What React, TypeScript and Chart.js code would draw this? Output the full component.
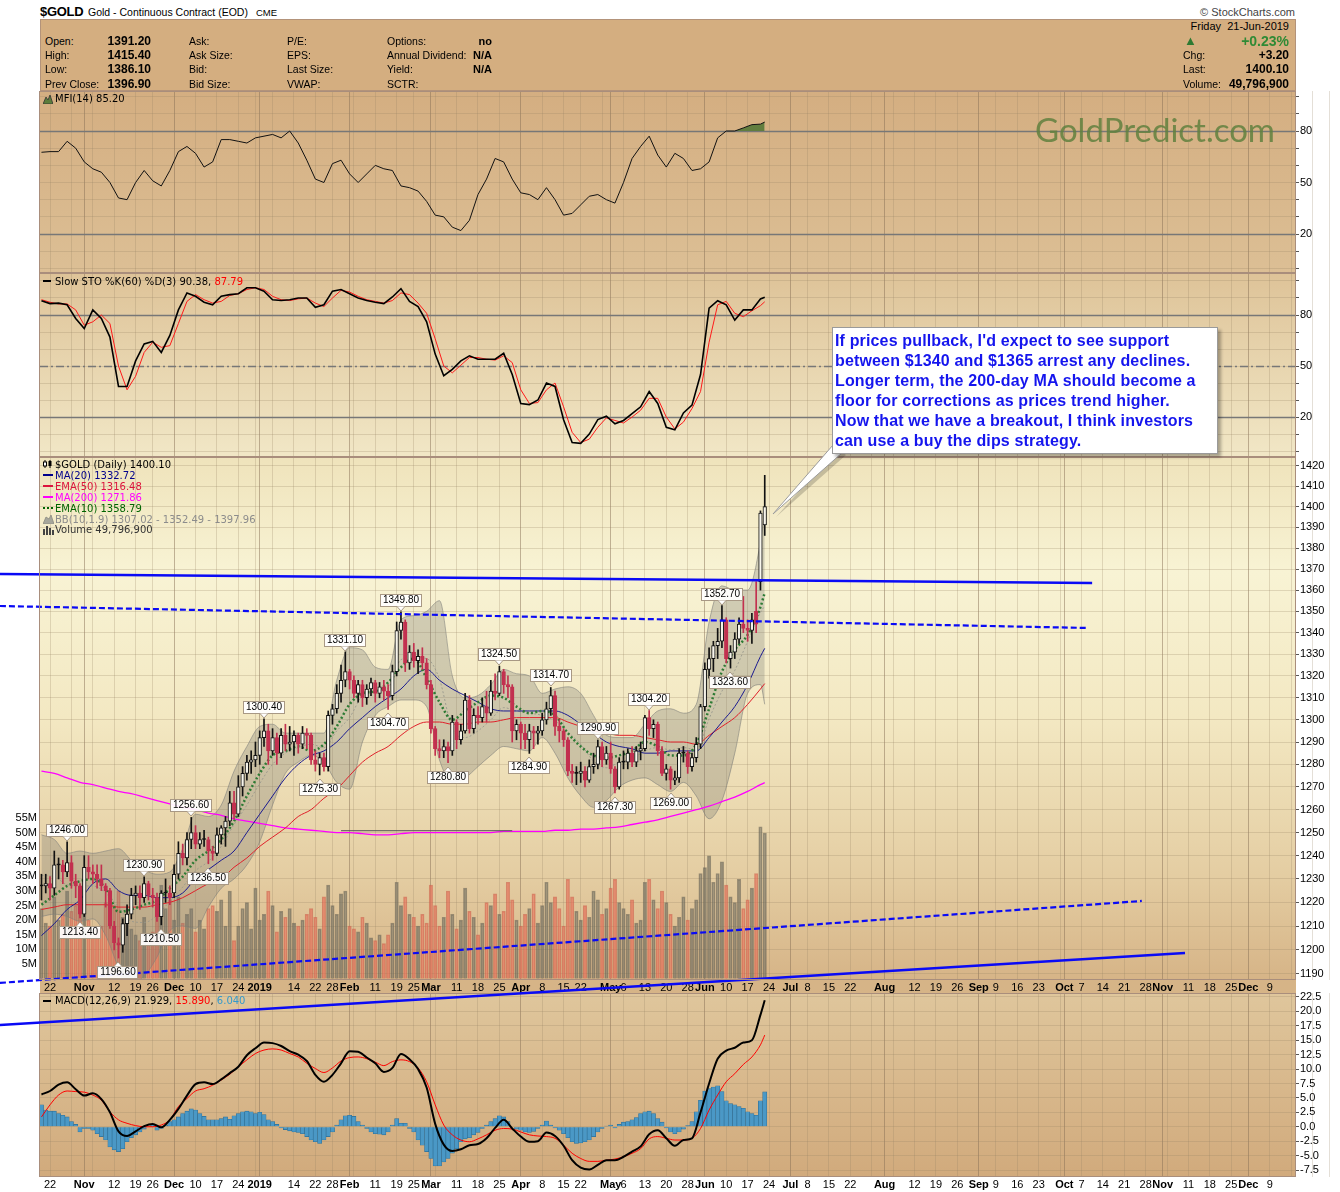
import React, { useEffect, useRef } from 'react';
import { Chart, registerables } from 'chart.js';

Chart.register(...registerables);

const FONT = "'Liberation Sans', Arial, Helvetica, sans-serif";
const LFONT = "'DejaVu Sans', Verdana, sans-serif";

/* ---------------- calendar & axis labels ---------------- */
const START_DATE = '2018-10-18';
const END_DATE = '2019-12-31';
const HOLIDAYS = ['2018-11-22', '2018-12-25', '2019-01-01', '2019-01-21', '2019-02-18', '2019-04-19', '2019-05-27', '2019-07-04', '2019-09-02', '2019-11-28', '2019-12-25'];
const TICK_DATES = ['2018-10-22', '2018-11-01', '2018-11-12', '2018-11-19', '2018-11-26', '2018-12-03', '2018-12-10', '2018-12-17', '2018-12-24', '2019-01-02', '2019-01-14', '2019-01-22', '2019-01-28', '2019-02-01', '2019-02-11', '2019-02-19', '2019-02-25', '2019-03-01', '2019-03-11', '2019-03-18', '2019-03-25', '2019-04-01', '2019-04-08', '2019-04-15', '2019-04-22', '2019-05-01', '2019-05-06', '2019-05-13', '2019-05-20', '2019-05-28', '2019-06-03', '2019-06-10', '2019-06-17', '2019-06-24', '2019-07-01', '2019-07-08', '2019-07-15', '2019-07-22', '2019-08-01', '2019-08-12', '2019-08-19', '2019-08-26', '2019-09-03', '2019-09-09', '2019-09-16', '2019-09-23', '2019-10-01', '2019-10-07', '2019-10-14', '2019-10-21', '2019-10-28', '2019-11-01', '2019-11-11', '2019-11-18', '2019-11-25', '2019-12-02', '2019-12-09'];
const TICK_TEXTS = ['22', 'Nov', '12', '19', '26', 'Dec', '10', '17', '24', '2019', '14', '22', '28', 'Feb', '11', '19', '25', 'Mar', '11', '18', '25', 'Apr', '8', '15', '22', 'May', '6', '13', '20', '28', 'Jun', '10', '17', '24', 'Jul', '8', '15', '22', 'Aug', '12', '19', '26', 'Sep', '9', '16', '23', 'Oct', '7', '14', '21', '28', 'Nov', '11', '18', '25', 'Dec', '9'];
const PRICE_TICKS = [1190, 1200, 1210, 1220, 1230, 1240, 1250, 1260, 1270, 1280, 1290, 1300, 1310, 1320, 1330, 1340, 1350, 1360, 1370, 1380, 1390, 1400, 1410, 1420];
const VOLUME_TICKS = [5, 10, 15, 20, 25, 30, 35, 40, 45, 50, 55];
const MACD_TICKS = [-7.5, -5, -2.5, 0, 2.5, 5, 7.5, 10, 12.5, 15, 17.5, 20, 22.5];
const OSC_TICKS = [0, 10, 20, 30, 40, 50, 60, 70, 80, 90, 100];
const OSC_LABELED = [20, 50, 80];

/* ---------------- daily OHLC (index 0 = 18-Oct-2018, 169 = 21-Jun-2019) ---------------- */
const OPEN = [
  1227, 1227, 1228, 1226, 1236, 1236, 1233, 1237, 1229, 1227,
  1215, 1235, 1233, 1232, 1230, 1227, 1225, 1210, 1203, 1202,
  1211, 1215, 1223, 1224, 1222, 1228, 1223, 1222, 1214, 1224,
  1224, 1224, 1232, 1241, 1239, 1247, 1250, 1245, 1247, 1247,
  1242, 1241, 1249, 1252, 1255, 1263, 1258, 1270, 1276, 1281,
  1282, 1284, 1292, 1295, 1286, 1292, 1285, 1293, 1289, 1290,
  1293, 1289, 1294, 1293, 1282, 1280, 1283, 1279, 1302, 1305,
  1312, 1318, 1322, 1318, 1312, 1316, 1310, 1314, 1317, 1312,
  1315, 1313, 1311, 1322, 1341, 1345, 1326, 1331, 1327, 1329,
  1326, 1316, 1296, 1287, 1286, 1288, 1286, 1299, 1291, 1295,
  1309, 1296, 1302, 1301, 1306, 1303, 1313, 1312, 1322, 1316,
  1315, 1295, 1298, 1294, 1291, 1295, 1294, 1295, 1300, 1305,
  1311, 1297, 1295, 1291, 1277, 1276, 1276, 1277, 1273, 1279,
  1280, 1288, 1282, 1285, 1278, 1270, 1281, 1281, 1285, 1281,
  1286, 1287, 1301, 1296, 1298, 1286, 1276, 1278, 1273, 1274,
  1285, 1285, 1279, 1283, 1289, 1306, 1323, 1328, 1334, 1336,
  1346, 1328, 1331, 1337, 1344, 1342, 1341, 1350, 1364, 1391.2,
];
const HIGH = [
  1232, 1232, 1231, 1242, 1239, 1238, 1246, 1240, 1232, 1228,
  1240, 1240, 1236, 1236, 1236, 1228, 1226, 1212, 1205, 1213,
  1219, 1226, 1227, 1227, 1230.9, 1229, 1226, 1224, 1225, 1230,
  1227, 1236, 1246, 1245, 1250, 1256.6, 1253, 1250, 1251, 1248,
  1244, 1252, 1253, 1257, 1268, 1268, 1275, 1279, 1284, 1286,
  1290, 1295, 1300.4, 1298, 1296, 1294, 1296, 1298, 1297, 1295,
  1294, 1297, 1296, 1294, 1286, 1285, 1285, 1304, 1307, 1316,
  1325, 1331.1, 1323, 1320, 1318, 1318, 1316, 1319, 1318, 1317,
  1318, 1316, 1325, 1345, 1349.8, 1346, 1334, 1335, 1332, 1333,
  1328, 1318, 1297, 1291, 1291, 1290, 1302, 1300, 1298, 1312,
  1311, 1305, 1306, 1310, 1313, 1318, 1321, 1324.5, 1323, 1320,
  1316, 1300, 1299, 1298, 1298, 1297, 1297, 1303, 1308, 1314.7,
  1313, 1300, 1296, 1292, 1280, 1279, 1281, 1279, 1282, 1285,
  1290.9, 1290, 1288, 1290, 1279, 1283, 1286, 1287, 1288, 1288,
  1290, 1302, 1304.2, 1300, 1299, 1288, 1280, 1279, 1277, 1287,
  1288, 1286, 1285, 1292, 1307, 1326, 1333, 1336, 1342, 1352.7,
  1347, 1334, 1340, 1347, 1357, 1346, 1349, 1364, 1398, 1415.4,
];
const LOW = [
  1221, 1224, 1221, 1223, 1230, 1228, 1231, 1226, 1222, 1213.4,
  1214, 1230, 1228, 1226, 1225, 1218, 1209, 1200, 1196.6, 1199,
  1206, 1213, 1219, 1217, 1220, 1221, 1218, 1212, 1210.5, 1220,
  1219, 1222, 1230, 1236, 1236, 1243, 1243, 1243, 1244, 1236.5,
  1238, 1240, 1245, 1244, 1253, 1256, 1257, 1266, 1273, 1276,
  1279, 1280, 1288, 1280, 1284, 1280, 1283, 1286, 1286, 1284,
  1285, 1287, 1287, 1280, 1277, 1275.3, 1277, 1277, 1298, 1303,
  1308, 1315, 1314, 1310, 1308, 1306, 1307, 1311, 1308, 1310,
  1309, 1304.7, 1309, 1320, 1337, 1322, 1323, 1324, 1321, 1323,
  1314, 1294, 1284, 1283, 1283, 1280.8, 1284, 1287, 1289, 1294,
  1294, 1294, 1298, 1299, 1299, 1302, 1309, 1311, 1312, 1310,
  1290, 1291, 1287, 1287, 1284.9, 1287, 1289, 1293, 1298, 1302,
  1293, 1290, 1288, 1275, 1272, 1271, 1272, 1270, 1272, 1276,
  1278, 1279, 1280, 1276, 1267.3, 1269, 1278, 1278, 1279, 1279,
  1282, 1286, 1293, 1292, 1284, 1275, 1273, 1269, 1271, 1272,
  1281, 1276, 1277, 1281, 1287, 1304, 1319, 1322, 1328, 1333,
  1326, 1323.6, 1328, 1335, 1340, 1336, 1335, 1340, 1360, 1386.1,
];
const CLOSE = [
  1227, 1228, 1226, 1236, 1236, 1233, 1237, 1229, 1227, 1215,
  1235, 1233, 1232, 1230, 1227, 1225, 1210, 1203, 1202, 1211,
  1215, 1223, 1224, 1222, 1228, 1223, 1222, 1214, 1224, 1224,
  1222, 1232, 1241, 1239, 1247, 1250, 1245, 1247, 1247, 1242,
  1241, 1249, 1252, 1255, 1263, 1258, 1270, 1276, 1281, 1282,
  1284, 1292, 1295, 1286, 1292, 1285, 1293, 1289, 1290, 1293,
  1289, 1294, 1293, 1282, 1280, 1283, 1279, 1302, 1305, 1312,
  1318, 1322, 1318, 1312, 1316, 1310, 1314, 1317, 1312, 1315,
  1313, 1311, 1322, 1341, 1345, 1326, 1331, 1327, 1329, 1326,
  1316, 1296, 1287, 1286, 1288, 1286, 1299, 1291, 1295, 1309,
  1296, 1302, 1301, 1306, 1303, 1313, 1312, 1322, 1316, 1315,
  1295, 1298, 1294, 1291, 1295, 1294, 1295, 1300, 1305, 1311,
  1297, 1295, 1291, 1277, 1276, 1276, 1277, 1273, 1279, 1280,
  1288, 1282, 1285, 1278, 1270, 1281, 1281, 1285, 1281, 1286,
  1287, 1301, 1296, 1298, 1286, 1276, 1278, 1273, 1274, 1285,
  1285, 1279, 1283, 1289, 1306, 1323, 1328, 1334, 1336, 1346,
  1328, 1331, 1337, 1344, 1342, 1341, 1346, 1344, 1396.9, 1400.1,
];
const VOLUME_M = [
  24, 19, 18, 28, 20, 22, 30, 23, 25, 22,
  33, 20, 14, 17, 18, 26, 27, 25, 30, 21,
  19, 17, 15, 13, 21, 12, 16, 22, 32, 24,
  27, 20, 28, 19, 22, 24, 16, 20, 17, 24,
  25, 23, 27, 18, 30, 13, 18, 24, 26, 17,
  31, 20, 22, 30, 25, 16, 23, 21, 24, 19,
  18, 20, 22, 24, 21, 17, 28, 32, 25, 22,
  29, 30, 18, 17, 16, 21, 19, 14, 13, 15,
  12, 15, 19, 33, 25, 28, 22, 21, 18, 22,
  19, 32, 25, 18, 21, 30, 22, 17, 20, 31,
  23, 21, 15, 19, 26, 25, 29, 22, 23, 33,
  27, 20, 18, 22, 24, 29, 19, 25, 33, 26,
  28, 24, 18, 34, 28, 23, 20, 25, 21, 30,
  27, 22, 24, 31, 34, 26, 24, 22, 27, 19,
  20, 33, 34, 27, 24, 30, 26, 22, 18, 21,
  28, 20, 24, 27, 36, 38, 42, 33, 36, 40,
  32, 28, 26, 34, 24, 27, 31, 36, 52, 49.8,
];
const MACD_HIST = [
  3.8, 2.9, 2.7, 2.7, 2.3, 2.0, 1.7, 0.9, 0.4, -0.9, -0.3,
  -0.3, -0.6, -1.2, -1.7, -2.3, -3.5, -4.0, -4.3, -3.8, -2.6, -1.9, -1.4, -0.9, -0.4, 0, 0.4, -0.6, -0.3, 0.3, 0.9, 1.2, 1.7, 2.3, 2.7, 3.1, 2.9, 2.3, 1.8, 1.2, 1.2,
  1.2, 1.4, 1.7, 1.3, 1.9, 2.3, 2.6, 2.7, 2.6, 2.3, 2.5, 2.1,
  1.2, 0.9, 0.4, -0.2, -0.5, -0.7, -0.9, -1.0, -1.2, -1.7, -2.3, -2.6, -2.9, -2.3, -1.7, -0.9, 0.3, 1.2, 1.9, 2.0, 1.8,
  0.9, 0.3, -0.3, -0.9, -1.2, -1.3, -1.4, -0.9, 0.3, 1.4, 0.6, 0.6,
  -0.3, -0.9, -2.3, -3.2, -4.3, -5.5, -6.8, -6.8, -6.1, -5.5, -4.6, -3.8, -2.6, -2.1, -1.9, -1.4, -1.0, -0.3, 0.3, 0.9, 1.4, 1.9, 1.7, 0.9, 0, -0.4,
  -0.6, -0.9, -1.0, -0.8, -0.3, 0.3, 1.0, 0.3, -0.2, -0.6, -1.2, -1.9, -2.6, -2.9, -2.8, -2.6, -2.3, -1.7, -0.9, -0.3, 0.1, 0.3, -0.2,
  0.4, 0.8, 0.9, 1.2, 1.6, 2.3, 2.6, 2.7, 2.3, 1.4, 0.8, -0.2, -0.9, -1.2, -0.9, -0.4,
  0.2, 0.9, 2.6, 4.6, 6.2, 6.6, 6.9, 7.1, 6.1, 4.5, 4.0, 3.8, 3.5, 3.2, 2.6, 2.3, 2.0, 4.5, 6.04,
];

/* ---------------- oscillators, sampled every 2 sessions ---------------- */
const OSC_DAYS = [
  0, 2, 4, 6, 8, 10, 12, 14, 16, 18, 20, 22, 24, 26, 28, 30, 32, 34, 36, 38,
  40, 42, 44, 46, 48, 50, 52, 54, 56, 58, 60, 62, 64, 66, 68, 70, 72, 74, 76, 78,
  80, 82, 84, 86, 88, 90, 92, 94, 96, 98, 100, 102, 104, 106, 108, 110, 112, 114, 116, 118,
  120, 122, 124, 126, 128, 130, 132, 134, 136, 138, 140, 142, 144, 146, 148, 150, 152, 154, 156, 158,
  160, 162, 164, 166, 168, 169,
];
const MFI = [
  67.6, 68, 68, 74, 70, 62, 58, 56, 50, 41, 40, 50, 57, 51, 48, 57, 68, 71, 67, 59,
  62, 75, 75, 74, 73, 76, 77, 78, 76, 80, 73, 63, 52, 50, 61, 63, 55, 50, 55, 60,
  58, 57, 48, 47, 45, 39, 31, 30, 24, 22, 28, 43, 52, 64, 62, 52, 44, 43, 40, 47,
  40, 31, 32, 37, 42, 43, 40, 38, 50, 64, 71, 77, 66, 59, 67, 64, 57, 58, 62, 76,
  80, 80, 81.8, 83.7, 84, 85.2,
];
const STO_K = [
  88.4, 86.7, 87, 86, 78, 72, 83, 78, 67, 38, 38, 53, 63, 64.5, 58, 68, 83, 93, 91, 87.5,
  86, 91, 92, 92.5, 96, 96, 94, 89, 88.5, 89, 90, 90, 84.5, 86, 94, 95, 92.5, 90, 88.5, 87.5,
  86.7, 90.6, 95.5, 88, 85, 76, 57, 44.3, 48, 53, 56, 54, 54, 54, 57.5, 45, 28, 27.3, 30, 40,
  38, 18.4, 5, 4.5, 10, 18.5, 20.5, 16, 18, 22, 26, 35, 28, 14, 12.5, 22.4, 27, 45, 84, 88.4,
  86, 77, 83, 83, 89.4, 90.38,
];
const STO_D = [
  89, 87.5, 86.5, 86.5, 83, 74, 76, 80, 75, 50, 36, 44, 58, 64, 61, 62, 75, 88, 92, 89,
  87, 88, 91.5, 92.5, 95, 96, 95, 91, 89, 88.5, 89.5, 90, 87, 85, 90, 94.5, 93.5, 91, 89, 88,
  87, 88.5, 93, 92, 87, 81, 66, 50, 46, 50.5, 55, 55, 54, 53.5, 56, 52, 36, 28, 28.5, 36,
  40, 26, 11, 5, 7, 14, 19.5, 18, 16.5, 20, 24, 31, 31, 20, 13, 17, 25, 35, 64, 86,
  88, 81, 79, 82.5, 85.5, 87.79,
];
const MACD_LINE = [
  5.6, 6.2, 7.3, 7.7, 6.5, 5.4, 5.8, 4.8, 2.5, -0.8, -1.6, -0.8, 0.1, 0.5, -0.1, 1.2, 3.1, 5.4, 7.4, 7.7,
  7.4, 8.2, 9.3, 10.4, 12.4, 13.6, 14.6, 14.5, 14.0, 13.1, 12.5, 11.4, 9, 7.8, 9.0, 11, 13.1, 13, 12, 11,
  9.5, 10.2, 12.6, 11.7, 10, 6.8, 0.5, -3.1, -4.2, -3.9, -3.2, -3.0, -2.0, -0.2, 1.2, -0.3, -1.7, -2.6, -2.5, -1.0,
  -1.6, -3.3, -5.8, -7.1, -7.4, -6.6, -5.8, -5.8, -5.2, -4.3, -3.4, -1.3, -0.6, -2.0, -3.3, -2.3, -2.0, 2.5, 7.5, 11.8,
  13.2, 13.7, 14.6, 15, 19.4, 21.93,
];
const MACD_SIGNAL = [
  1.7, 3.8, 5.5, 6.2, 6.1, 6.0, 5.5, 4.6, 2.6, 1.2, 0.6, 0.2, 0, 0, 0.3, 1.2, 3.5, 4.9, 6.2, 6.6,
  7.2, 8.1, 9.1, 10.4, 11.6, 12.7, 13.3, 13.5, 13.3, 12.7, 12.1, 11, 10.1, 9.4, 10.2, 11.4, 12, 12.1, 11.8, 11.2,
  10.6, 11.3, 11.6, 11.3, 10.2, 7.8, 3.8, 0.3, -1.4, -2.3, -2.6, -2.1, -1.4, -0.6, -0.3, -0.4, -0.9, -1.4, -1.6, -1.7,
  -2.0, -3.2, -4.6, -5.5, -6.0, -6.0, -5.8, -5.6, -5.2, -4.6, -3.8, -2.1, -1.7, -2.0, -2.3, -2.3, -2.0, -0.3, 2.9, 5.5,
  7.8, 9.2, 10.8, 12.1, 14.2, 15.89,
];

/* ---------------- price overlays, sampled every 3 sessions ---------------- */
const MA_DAYS = [
  0, 3, 6, 9, 12, 15, 18, 21, 24, 27, 30, 33, 36, 39, 42, 45, 48, 51, 54, 57,
  60, 63, 66, 69, 72, 75, 78, 81, 84, 87, 90, 93, 96, 99, 102, 105, 108, 111, 114, 117,
  120, 123, 126, 129, 132, 135, 138, 141, 144, 147, 150, 153, 156, 159, 162, 165, 168, 169,
];
const MA20 = [
  1206, 1211, 1217, 1221, 1228, 1230, 1225, 1223, 1223, 1222, 1222, 1224, 1230, 1234, 1238, 1242, 1250, 1258, 1266, 1274,
  1280, 1284, 1286, 1290, 1296, 1301, 1306, 1310, 1314, 1320, 1323, 1318, 1314, 1311, 1308, 1305, 1304, 1304, 1304, 1304,
  1304, 1302, 1298, 1294, 1290, 1288, 1287, 1285, 1285, 1286, 1286, 1286, 1292, 1299, 1306, 1316, 1329, 1332.72,
];
const EMA50 = [
  1217, 1218, 1219, 1219, 1219, 1219, 1218, 1218, 1218, 1219, 1220, 1222, 1225, 1228, 1230, 1235, 1239, 1244, 1248, 1252,
  1257, 1260, 1265, 1269, 1275, 1281, 1285, 1288, 1293, 1297, 1299, 1299, 1298, 1298, 1299, 1299, 1300, 1301, 1301, 1301,
  1301, 1299, 1297, 1295, 1294, 1293, 1293, 1292, 1291, 1290, 1290, 1289, 1293, 1297, 1301, 1307, 1314, 1316.48,
];
const MA200 = [
  1277, 1276, 1274, 1272, 1271, 1269.5, 1268, 1267, 1265.5, 1264, 1262.5, 1261, 1260, 1258.5, 1257.5, 1256, 1255, 1254, 1253, 1252,
  1251.5, 1251, 1250.5, 1250, 1250, 1249.5, 1249, 1249, 1249.5, 1250, 1250, 1250, 1250, 1250, 1250, 1250, 1250.5, 1250.5, 1250.5, 1250.5,
  1251, 1251, 1251.5, 1251.5, 1252, 1252.5, 1253.5, 1254.5, 1255.5, 1257, 1258.5, 1260, 1261.5, 1263.5, 1265.5, 1268, 1271, 1271.86,
];
const EMA10 = [
  1219, 1223, 1227, 1229, 1230, 1226, 1216, 1217, 1219, 1221, 1226, 1231, 1238, 1242, 1247, 1255, 1266, 1276, 1284, 1286,
  1288, 1286, 1289, 1297, 1307, 1312, 1313, 1317, 1324, 1328, 1319, 1308, 1300, 1304, 1308, 1311, 1310, 1306, 1303, 1304,
  1302, 1294, 1288, 1284, 1283, 1284, 1286, 1290, 1288, 1284, 1284, 1289, 1305, 1322, 1332, 1339, 1352, 1358.79,
];
const BB_UP = [
  1249, 1247, 1241, 1242, 1241, 1242, 1243, 1238, 1234, 1232, 1233, 1243, 1258, 1257, 1262, 1277, 1288, 1297, 1298, 1294,
  1294, 1294, 1294, 1318, 1333, 1332, 1324, 1323, 1346, 1348, 1350, 1355, 1320, 1310, 1311, 1316, 1323, 1321, 1320, 1312,
  1314, 1315, 1312, 1302, 1293, 1292, 1292, 1298, 1304, 1305, 1303, 1307, 1345, 1362, 1360, 1360, 1383, 1397.96,
];
const BB_MID = [
  1231.5, 1231, 1227.5, 1227, 1227, 1224, 1218, 1212, 1211.5, 1214.5, 1220.5, 1226.5, 1233.5, 1237.5, 1244, 1253.5, 1262, 1271.5, 1280, 1285,
  1287.5, 1289, 1287.5, 1295, 1301, 1311, 1313, 1314.5, 1327.5, 1328.5, 1328, 1318.5, 1296, 1292, 1295, 1300, 1305.5, 1304, 1303, 1302,
  1299.5, 1294.5, 1289, 1281.5, 1278.5, 1281, 1282.5, 1286, 1287.5, 1286.5, 1287.5, 1286.5, 1300.5, 1313, 1322.5, 1336, 1349.5, 1352.49,
];
const BB_LO = [
  1214, 1215, 1214, 1212, 1213, 1206, 1193, 1186, 1189, 1197, 1208, 1210, 1209, 1218, 1226, 1230, 1236, 1246, 1262, 1276,
  1281, 1284, 1281, 1272, 1269, 1290, 1302, 1306, 1309, 1309, 1306, 1282, 1272, 1274, 1279, 1284, 1288, 1287, 1286, 1292,
  1285, 1274, 1266, 1261, 1264, 1270, 1273, 1274, 1271, 1268, 1272, 1266, 1256, 1264, 1285, 1312, 1316, 1307.02,
];

/* ---------------- marked highs / lows ---------------- */
const PIVOT_DAYS = [6, 9, 18, 24, 28, 35, 39, 52, 65, 71, 81, 84, 95, 107, 114, 119, 130, 134, 142, 147, 159, 161];
const PIVOT_PRICES = [1246.0, 1213.4, 1196.6, 1230.9, 1210.5, 1256.6, 1236.5, 1300.4, 1275.3, 1331.1, 1304.7, 1349.8, 1280.8, 1324.5, 1284.9, 1314.7, 1290.9, 1267.3, 1304.2, 1269.0, 1352.7, 1323.6];
const PIVOT_KIND = ['H', 'L', 'L', 'H', 'L', 'H', 'L', 'H', 'L', 'H', 'L', 'H', 'L', 'H', 'L', 'H', 'H', 'L', 'H', 'L', 'H', 'L'];

/* ---------------- hand-drawn trend lines [session, price] ---------------- */
const TREND_RESIST_SOLID = [[-9.7, 1367.6], [245.5, 1363.4]];
const TREND_RESIST_DASHED = [[-9.7, 1352.5], [244.3, 1342.2]];
const TREND_SUPPORT_DASHED = [[-9.7, 1186.3], [257.1, 1220.6]];
const TREND_SUPPORT_SOLID = [[-9.7, 1169.1], [267.2, 1198.7]];
const FLAT_LINE = [[70, 1250.8], [110, 1250.8]];

const NOTE_LINES = [
  "If prices pullback, I'd expect to see support",
  'between $1340 and $1365 arrest any declines.',
  'Longer term, the 200-day MA should become a',
  'floor for corrections as prices trend higher.',
  'Now that we have a breakout, I think investors',
  'can use a buy the dips strategy.',
];

/* ---------------- derived axis helpers ---------------- */
function buildCalendar(): string[] {
  const out: string[] = [];
  const d = new Date(START_DATE + 'T00:00:00Z');
  const end = new Date(END_DATE + 'T00:00:00Z');
  while (d <= end) {
    const wd = d.getUTCDay();
    const s = d.toISOString().slice(0, 10);
    if (wd !== 0 && wd !== 6 && HOLIDAYS.indexOf(s) < 0) out.push(s);
    d.setUTCDate(d.getUTCDate() + 1);
  }
  return out;
}
const DAYS = buildCalendar();
const GRID_TICKS: number[] = [];
const MONTH_TICKS = new Set<number>();
for (let i = 1; i < DAYS.length; i++) {
  const a = new Date(DAYS[i - 1] + 'T00:00:00Z');
  const b = new Date(DAYS[i] + 'T00:00:00Z');
  const newWeek = b.getUTCDay() < a.getUTCDay();
  const newMonth = b.getUTCMonth() !== a.getUTCMonth();
  if (newWeek || newMonth) GRID_TICKS.push(i);
  if (newMonth) MONTH_TICKS.add(i);
}
const LABEL_AT = new Map<number, string>();
TICK_DATES.forEach((d, k) => LABEL_AT.set(DAYS.indexOf(d), TICK_TEXTS[k]));

const X_MIN = -0.34;
const X_MAX = 292.9;
const WEEK_GRID = 'rgba(150,130,100,0.26)';
const MONTH_GRID = 'rgba(135,112,85,0.5)';
const H_GRID = 'rgba(150,130,100,0.26)';

function xAxis(showLabels: boolean, height: number): any {
  return {
    type: 'linear', min: X_MIN, max: X_MAX, offset: false,
    afterBuildTicks: (s: any) => { s.ticks = GRID_TICKS.map((v) => ({ value: v })); },
    afterFit: (s: any) => { s.height = height; s.paddingLeft = 0; s.paddingRight = 0; },
    grid: { color: (c: any) => (MONTH_TICKS.has(c.tick && c.tick.value) ? MONTH_GRID : WEEK_GRID), lineWidth: 1, drawTicks: false, offset: false },
    border: { display: false },
    ticks: {
      display: showLabels, autoSkip: false, maxRotation: 0, minRotation: 0, padding: 1, color: '#000',
      font: (c: any) => ({ family: FONT, size: 11, weight: MONTH_TICKS.has(c.tick && c.tick.value) ? 'bold' : 'normal' }),
      callback: (v: any) => LABEL_AT.get(v) ?? '',
    },
  };
}
function rightAxis(type: string, min: number, max: number, ticks: number[], fmt: (v: number) => string): any {
  return {
    type, position: 'right', min, max,
    afterBuildTicks: (s: any) => { s.ticks = ticks.map((v) => ({ value: v })); },
    afterFit: (s: any) => { s.width = 45; s.paddingTop = 0; s.paddingBottom = 0; },
    grid: { color: H_GRID, lineWidth: 1, drawTicks: true, tickLength: 4, tickColor: '#555', tickWidth: 1 },
    border: { display: false },
    ticks: { color: '#000', padding: 1, autoSkip: false, font: { family: FONT, size: 11 }, callback: (v: any) => fmt(Number(v)) },
  };
}
function panelPlugin(stops: [number, string][]): any {
  return {
    id: 'panelBg',
    beforeDraw(chart: any) {
      const { ctx, chartArea: a } = chart;
      const g = ctx.createLinearGradient(0, a.top, 0, a.bottom);
      stops.forEach(([p, c]) => g.addColorStop(p, c));
      ctx.save();
      ctx.fillStyle = g;
      ctx.fillRect(a.left, a.top, a.right - a.left, a.bottom - a.top);
      ctx.restore();
    },
    afterDraw(chart: any) {
      const { ctx, chartArea: a } = chart;
      ctx.save();
      ctx.strokeStyle = '#a98e7c';
      ctx.lineWidth = 1;
      ctx.strokeRect(Math.round(a.left) - 0.5, Math.round(a.top) + 0.5, Math.round(a.right - a.left) + 1, Math.round(a.bottom - a.top) - 1);
      ctx.restore();
    },
  };
}
function refLinePlugin(lines: { v: number; dash: number[] }[]): any {
  return {
    id: 'refLines',
    beforeDatasetsDraw(chart: any) {
      const { ctx, chartArea: a } = chart;
      const ys = chart.scales.y;
      ctx.save();
      lines.forEach((l) => {
        const y = Math.round(ys.getPixelForValue(l.v)) + 0.5;
        ctx.strokeStyle = '#777777';
        ctx.lineWidth = 1.3;
        ctx.setLineDash(l.dash);
        ctx.beginPath();
        ctx.moveTo(a.left, y);
        ctx.lineTo(a.right, y);
        ctx.stroke();
      });
      ctx.restore();
    },
  };
}
const pivotPlugin: any = {
  id: 'pivots',
  afterDatasetsDraw(chart: any) {
    const { ctx } = chart;
    const xs = chart.scales.x;
    const ys = chart.scales.y;
    ctx.save();
    ctx.font = `10px ${FONT}`;
    ctx.textAlign = 'center';
    ctx.textBaseline = 'middle';
    PIVOT_DAYS.forEach((d, i) => {
      const v = PIVOT_PRICES[i];
      const high = PIVOT_KIND[i] === 'H';
      const x = Math.round(xs.getPixelForValue(d));
      const y = ys.getPixelForValue(v);
      const text = v.toFixed(2);
      const w = Math.round(ctx.measureText(text).width + 6);
      const h = 13;
      const cy = Math.round(high ? y - 12 : y + 14);
      const top = cy - Math.floor(h / 2);
      const left = x - Math.round(w / 2);
      ctx.fillStyle = 'rgba(255,255,255,0.93)';
      ctx.fillRect(left, top, w, h);
      ctx.strokeStyle = '#a89884';
      ctx.lineWidth = 1;
      ctx.strokeRect(left + 0.5, top + 0.5, w - 1, h - 1);
      ctx.beginPath();
      if (high) {
        ctx.moveTo(x - 4, top + h - 0.5);
        ctx.lineTo(x, top + h + 4);
        ctx.lineTo(x + 4, top + h - 0.5);
      } else {
        ctx.moveTo(x - 4, top + 0.5);
        ctx.lineTo(x, top - 4);
        ctx.lineTo(x + 4, top + 0.5);
      }
      ctx.fillStyle = '#ffffff';
      ctx.fill();
      ctx.stroke();
      ctx.fillStyle = '#000';
      ctx.fillText(text, x, cy + 0.5);
    });
    ctx.restore();
  },
};

const pts = (days: number[], vals: number[]) => days.map((d, k) => ({ x: d, y: vals[k] }));
const pairPts = (arr: number[][]) => arr.map((p) => ({ x: p[0], y: p[1] }));
const line = (data: any[], color: string, width: number, extra: any = {}) => ({
  type: 'line', data, borderColor: color, borderWidth: width, pointRadius: 0, tension: 0, fill: false, ...extra,
});
const baseOptions = (padding: any) => ({
  responsive: false, maintainAspectRatio: false, animation: false, events: [],
  layout: { padding },
  plugins: { legend: { display: false }, tooltip: { enabled: false } },
});

/* ---------------- small text helpers ---------------- */
const T = ({ x, y, right, size = 11, bold, color = '#000', font = FONT, spacing, children }: any) => {
  const lh = Math.round(size * 1.25);
  const pos: any = right ? { right: 1340 - x } : { left: x };
  return (
    <div style={{ position: 'absolute', top: y - lh / 2, ...pos, fontSize: size, lineHeight: `${lh}px`, fontWeight: bold ? 700 : 400, color, fontFamily: font, whiteSpace: 'nowrap', letterSpacing: spacing, zIndex: 6 }}>
      {children}
    </div>
  );
};
const Swatch = ({ x, y, w = 8, h = 2, color, dotted }: any) => (
  <div style={{ position: 'absolute', left: x, top: y - h / 2, width: w, height: h, background: dotted ? 'none' : color, borderTop: dotted ? `${h}px dotted ${color}` : 'none', zIndex: 6 }} />
);

export default function App() {
  const mfiRef = useRef<HTMLCanvasElement>(null);
  const stoRef = useRef<HTMLCanvasElement>(null);
  const priceRef = useRef<HTMLCanvasElement>(null);
  const macdRef = useRef<HTMLCanvasElement>(null);

  useEffect(() => {
    document.body.style.margin = '0';
    Chart.defaults.font.family = FONT;
    const charts: Chart[] = [];

    // MFI
    charts.push(new Chart(mfiRef.current as any, {
      type: 'line',
      data: {
        datasets: [line(pts(OSC_DAYS, MFI), '#111', 1, {
          fill: { target: { value: 80 }, above: 'rgba(88,122,58,0.92)', below: 'rgba(0,0,0,0)' },
        }) as any],
      },
      options: {
        ...baseOptions({ left: 40, top: 0, right: 0, bottom: 0 }),
        scales: { x: xAxis(false, 0), y: rightAxis('linear', -2.7, 103.3, OSC_TICKS, (v) => (OSC_LABELED.includes(v) ? String(v) : '')) },
      } as any,
      plugins: [panelPlugin([[0, '#d4ae81'], [1, '#dcbf95']]), refLinePlugin([{ v: 80, dash: [] }, { v: 20, dash: [] }])],
    }));

    // Slow stochastics
    charts.push(new Chart(stoRef.current as any, {
      type: 'line',
      data: {
        datasets: [
          line(pts(OSC_DAYS, STO_K), '#000', 1.6, { order: 1 }) as any,
          line(pts(OSC_DAYS, STO_D), '#ff1a1a', 1, { order: 2 }) as any,
        ],
      },
      options: {
        ...baseOptions({ left: 40, top: 0, right: 0, bottom: 0 }),
        scales: { x: xAxis(false, 0), y: rightAxis('linear', -3.5, 104.7, OSC_TICKS, (v) => (OSC_LABELED.includes(v) ? String(v) : '')) },
      } as any,
      plugins: [panelPlugin([[0, '#dec398'], [1, '#f1e7c6']]), refLinePlugin([{ v: 80, dash: [] }, { v: 20, dash: [] }, { v: 50, dash: [8, 3, 2, 3] }])],
    }));

    // Price
    const up = CLOSE.map((c, i) => c >= (i === 0 ? OPEN[i] : CLOSE[i - 1]));
    const candleColor = up.map((u) => (u ? '#111111' : '#c2304f'));
    const bodyFill = CLOSE.map((c, i) => (c > OPEN[i] ? 'rgba(252,250,240,0.95)' : candleColor[i]));
    const volFill = up.map((u) => (u ? 'rgba(118,116,102,0.5)' : 'rgba(236,116,94,0.5)'));
    const volEdge = up.map((u) => (u ? 'rgba(92,90,78,0.55)' : 'rgba(205,92,72,0.6)'));
    const bodies = CLOSE.map((c, i) => ({ x: i, y: [OPEN[i], c] }));
    const upperWicks = CLOSE.map((c, i) => ({ x: i, y: [Math.max(OPEN[i], c), HIGH[i]] }));
    const lowerWicks = CLOSE.map((c, i) => ({ x: i, y: [LOW[i], Math.min(OPEN[i], c)] }));
    const trend = (arr: number[][], dashed: boolean, width: number) =>
      line(pairPts(arr), '#0a0af5', width, { borderDash: dashed ? [6, 3] : [], clip: false, order: 1 });

    charts.push(new Chart(priceRef.current as any, {
      type: 'line',
      data: {
        datasets: [
          { type: 'bar', yAxisID: 'y2', data: VOLUME_M.map((v, i) => ({ x: i, y: v })), backgroundColor: volFill, borderColor: volEdge, borderWidth: 1, barThickness: 3.4, grouped: false, order: 20 },
          line(pts(MA_DAYS, BB_UP), 'rgba(130,130,125,0.6)', 1, { fill: '+1', backgroundColor: 'rgba(118,120,112,0.3)', order: 15, cubicInterpolationMode: 'monotone' }),
          line(pts(MA_DAYS, BB_LO), 'rgba(130,130,125,0.6)', 1, { order: 15, cubicInterpolationMode: 'monotone' }),
          line(pts(MA_DAYS, BB_MID), 'rgba(150,150,140,0.85)', 1, { borderDash: [2, 2], order: 14, cubicInterpolationMode: 'monotone' }),
          line(pts(MA_DAYS, MA200), '#ff00ff', 1.3, { order: 13, cubicInterpolationMode: 'monotone' }),
          line(pts(MA_DAYS, EMA50), '#e0202a', 1, { order: 12, cubicInterpolationMode: 'monotone' }),
          line(pts(MA_DAYS, MA20), '#1a1a90', 1, { order: 11, cubicInterpolationMode: 'monotone' }),
          line(pts(MA_DAYS, EMA10), '#2d7a34', 2.5, { borderDash: [2, 2.3], order: 10, cubicInterpolationMode: 'monotone' }),
          { type: 'bar', data: upperWicks, backgroundColor: candleColor, barThickness: 1, grouped: false, order: 7 },
          { type: 'bar', data: lowerWicks, backgroundColor: candleColor, barThickness: 1, grouped: false, order: 7 },
          { type: 'bar', data: bodies, backgroundColor: bodyFill, borderColor: candleColor, borderWidth: 1, borderSkipped: false, barThickness: 3.6, minBarLength: 1, grouped: false, order: 6 },
          line(pairPts(FLAT_LINE), '#555555', 1, { order: 5 }),
          trend(TREND_RESIST_SOLID, false, 2.5),
          trend(TREND_RESIST_DASHED, true, 2.2),
          trend(TREND_SUPPORT_DASHED, true, 2.2),
          trend(TREND_SUPPORT_SOLID, false, 2.5),
        ] as any,
      },
      options: {
        ...baseOptions({ left: 0, top: 0, right: 0, bottom: 47 }),
        scales: {
          x: xAxis(true, 13),
          y: rightAxis('logarithmic', 1187.5, 1424.45, PRICE_TICKS, (v) => String(v)),
          y2: {
            type: 'linear', position: 'left', min: -0.48, max: 178.6,
            afterBuildTicks: (s: any) => { s.ticks = VOLUME_TICKS.map((v) => ({ value: v })); },
            afterFit: (s: any) => { s.width = 40; s.paddingTop = 0; s.paddingBottom = 0; },
            grid: { drawOnChartArea: false, drawTicks: false },
            border: { display: false },
            ticks: { color: '#000', padding: 3, autoSkip: false, font: { family: FONT, size: 11 }, callback: (v: any) => `${v}M` },
          },
        },
      } as any,
      plugins: [panelPlugin([[0, '#efe3bb'], [0.22, '#f8f3d4'], [0.5, '#f3e8c2'], [0.8, '#e4cda2'], [1, '#d6b487']]), pivotPlugin],
    }));

    // MACD
    charts.push(new Chart(macdRef.current as any, {
      type: 'line',
      data: {
        datasets: [
          { type: 'bar', data: MACD_HIST.map((v, i) => ({ x: i, y: v })), backgroundColor: '#4a98c6', borderColor: '#2e6e95', borderWidth: 0.6, barThickness: 4.2, grouped: false, order: 3 },
          line(pts(OSC_DAYS, MACD_SIGNAL), '#ff0000', 1, { order: 2, cubicInterpolationMode: 'monotone' }),
          line(pts(OSC_DAYS, MACD_LINE), '#000000', 2, { order: 1, cubicInterpolationMode: 'monotone' }),
        ] as any,
      },
      options: {
        ...baseOptions({ left: 40, top: 10, right: 0, bottom: 0 }),
        scales: { x: xAxis(true, 15), y: rightAxis('linear', -8.71, 23.19, MACD_TICKS, (v) => v.toFixed(1)) },
      } as any,
      plugins: [panelPlugin([[0, '#dfc69c'], [1, '#d1aa7c']])],
    }));

    return () => charts.forEach((c) => c.destroy());
  }, []);

  const rows = [41, 55, 69, 84];
  return (
    <div style={{ position: 'absolute', left: 0, top: 0, width: 1340, height: 1192, background: '#ffffff', overflow: 'hidden', fontFamily: FONT }}>
      {/* title line */}
      <T x={40} y={11.5} size={13} bold spacing="-0.3px">$GOLD</T>
      <T x={88} y={12} size={10.5}>Gold - Continuous Contract (EOD)</T>
      <T x={256} y={12.5} size={9.5}>CME</T>
      <T x={1295} y={12} right size={11} color="#444">© StockCharts.com</T>

      {/* info box */}
      <div style={{ position: 'absolute', left: 40, top: 19, width: 1256, height: 72, background: '#d4ae80', border: '1px solid #b3937a', boxSizing: 'border-box' }} />
      {['Open:', 'High:', 'Low:', 'Prev Close:'].map((s, i) => <T key={'a' + i} x={45} y={rows[i]} size={10.5}>{s}</T>)}
      {['1391.20', '1415.40', '1386.10', '1396.90'].map((s, i) => <T key={'b' + i} x={151} y={rows[i]} right bold size={12}>{s}</T>)}
      {['Ask:', 'Ask Size:', 'Bid:', 'Bid Size:'].map((s, i) => <T key={'c' + i} x={189} y={rows[i]} size={10.5}>{s}</T>)}
      {['P/E:', 'EPS:', 'Last Size:', 'VWAP:'].map((s, i) => <T key={'d' + i} x={287} y={rows[i]} size={10.5}>{s}</T>)}
      {['Options:', 'Annual Dividend:', 'Yield:', 'SCTR:'].map((s, i) => <T key={'e' + i} x={387} y={rows[i]} size={10.5}>{s}</T>)}
      {['no', 'N/A', 'N/A'].map((s, i) => <T key={'f' + i} x={492} y={rows[i]} right bold size={11}>{s}</T>)}
      <T x={1289} y={26} right size={11}>Friday&nbsp;&nbsp;21-Jun-2019</T>
      <T x={1184} y={41} size={13} color="#2e7a32">▲</T>
      <T x={1289} y={41} right bold size={14} color="#2f8a35">+0.23%</T>
      {['Chg:', 'Last:', 'Volume:'].map((s, i) => <T key={'g' + i} x={1183} y={rows[i + 1]} size={10.5}>{s}</T>)}
      {['+3.20', '1400.10', '49,796,900'].map((s, i) => <T key={'h' + i} x={1289} y={rows[i + 1]} right bold size={12}>{s}</T>)}

      {/* strip between price and MACD panels */}
      <div style={{ position: 'absolute', left: 40, top: 980, width: 1256, height: 13, background: '#d6b487' }} />

      <canvas ref={mfiRef} width={1340} height={182} style={{ position: 'absolute', left: 0, top: 91, width: 1340, height: 182, zIndex: 1 }} />
      <canvas ref={stoRef} width={1340} height={184} style={{ position: 'absolute', left: 0, top: 273, width: 1340, height: 184, zIndex: 1 }} />
      <canvas ref={macdRef} width={1340} height={209} style={{ position: 'absolute', left: 0, top: 983, width: 1340, height: 209, zIndex: 1 }} />
      <canvas ref={priceRef} width={1340} height={583} style={{ position: 'absolute', left: 0, top: 457, width: 1340, height: 583, zIndex: 2 }} />

      {/* watermark */}
      <div style={{ position: 'absolute', left: 1035, top: 111, fontFamily: "Lato, 'Open Sans', sans-serif", fontSize: 33, lineHeight: '37px', color: 'rgba(96,128,62,0.85)', whiteSpace: 'nowrap', zIndex: 5 }}>GoldPredict.com</div>

      {/* MFI legend */}
      <svg style={{ position: 'absolute', left: 43, top: 94, zIndex: 6 }} width={10} height={10}><polygon points="0,10 3,3 5,6 7,1 10,10" fill="#5b7d3b" stroke="#333" strokeWidth="0.8" /></svg>
      <T x={55} y={98.5} size={10} font={LFONT}>MFI(14) 85.20</T>

      {/* STO legend */}
      <Swatch x={43} y={281} w={8} h={2} color="#000" />
      <T x={55} y={281} size={10} font={LFONT}>Slow STO %K(60) %D(3) 90.38, <span style={{ color: '#ff0000' }}>87.79</span></T>

      {/* price legend */}
      <svg style={{ position: 'absolute', left: 43, top: 459, zIndex: 6 }} width={10} height={10}><line x1="2" y1="1" x2="2" y2="9" stroke="#000" /><rect x="0.5" y="3" width="3" height="4" fill="#fff" stroke="#000" /><line x1="7" y1="1" x2="7" y2="9" stroke="#000" /><rect x="5.5" y="2" width="3" height="5" fill="#000" /></svg>
      <T x={55} y={464.3} size={10} font={LFONT}>$GOLD (Daily) 1400.10</T>
      <Swatch x={43} y={475.3} w={10} h={2} color="#00008b" />
      <T x={55} y={475.3} size={10} font={LFONT} color="#00008b">MA(20) 1332.72</T>
      <Swatch x={43} y={486.3} w={10} h={2} color="#dc143c" />
      <T x={55} y={486.3} size={10} font={LFONT} color="#dc143c">EMA(50) 1316.48</T>
      <Swatch x={43} y={497.3} w={10} h={2} color="#ff00ff" />
      <T x={55} y={497.3} size={10} font={LFONT} color="#ff00ff">MA(200) 1271.86</T>
      <Swatch x={43} y={508.3} w={10} h={2} color="#006400" dotted />
      <T x={55} y={508.3} size={10} font={LFONT} color="#006400">EMA(10) 1358.79</T>
      <svg style={{ position: 'absolute', left: 43, top: 514, zIndex: 6 }} width={11} height={10}><polygon points="0,10 3,3 6,5 8,1 11,10" fill="#a7a79c" stroke="#8a8a80" strokeWidth="0.8" /></svg>
      <T x={55} y={519.3} size={10} font={LFONT} color="#8c8c8c">BB(10,1.9) 1307.02 - 1352.49 - 1397.96</T>
      <svg style={{ position: 'absolute', left: 43, top: 525, zIndex: 6 }} width={11} height={10}><rect x="0" y="4" width="2" height="6" fill="#444" /><rect x="3" y="1" width="2" height="9" fill="#444" /><rect x="6" y="3" width="2" height="7" fill="#444" /><rect x="9" y="5" width="2" height="5" fill="#444" /></svg>
      <T x={55} y={529.5} size={10} font={LFONT} color="#333">Volume 49,796,900</T>

      {/* MACD legend */}
      <Swatch x={43} y={1000.5} w={8} h={2} color="#000" />
      <T x={55} y={1000.5} size={10} font={LFONT}>MACD(12,26,9) 21.929, <span style={{ color: '#ff0000' }}>15.890</span>, <span style={{ color: '#3399cc' }}>6.040</span></T>

      {/* callout */}
      <svg width={1340} height={1192} style={{ position: 'absolute', left: 0, top: 0, zIndex: 7, pointerEvents: 'none' }}>
        <polygon points="837,449 776,517 846,455" fill="rgba(0,0,0,0.18)" />
        <polygon points="833,445 773,514 843,452" fill="#ffffff" stroke="#9c9c9c" strokeWidth="1" />
      </svg>
      <div style={{ position: 'absolute', left: 832, top: 327, width: 386, height: 127, boxSizing: 'border-box', background: '#ffffff', border: '1px solid #9a9a9a', boxShadow: '3px 3px 3px rgba(0,0,0,0.3)', padding: '3px 0 0 2px', zIndex: 8 }}>
        {NOTE_LINES.map((s, i) => (
          <div key={i} style={{ fontFamily: FONT, fontSize: 16, fontWeight: 700, lineHeight: '20px', color: '#1515ee', whiteSpace: 'nowrap', letterSpacing: '0.15px' }}>{s}</div>
        ))}
      </div>
    </div>
  );
}
